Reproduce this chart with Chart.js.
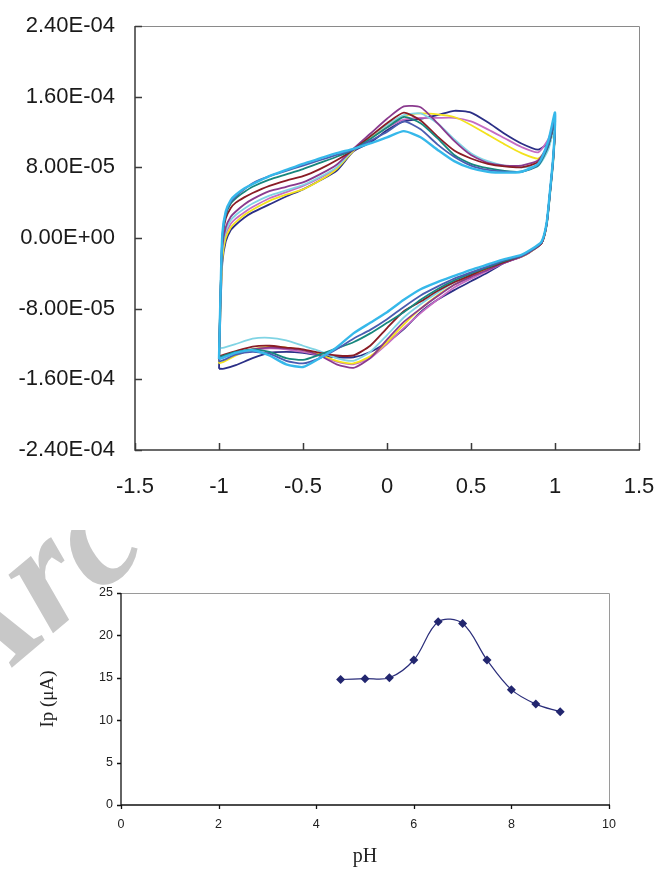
<!DOCTYPE html>
<html>
<head>
<meta charset="utf-8">
<script src="https://cdn.jsdelivr.net/npm/chart.js@4.4.1/dist/chart.umd.min.js"></script>
<style>
  html, body { margin: 0; padding: 0; background: #fff; }
  body { width: 656px; height: 869px; position: relative; overflow: hidden; }
  .wm {
    position: absolute; left: -125px; top: 592px;
    font: italic bold 160px "Liberation Serif", serif;
    color: #c8c8c8; white-space: nowrap;
    transform: rotate(-40deg); transform-origin: left top;
  }
  #cvBox { position: absolute; left: 0; top: 0; width: 656px; height: 530px; background: #fff; }
  #phBox { position: absolute; left: 0; top: 540px; width: 656px; height: 329px; }
</style>
</head>
<body>
<div class="wm">Arc</div>
<div id="cvBox"><canvas id="cv" width="656" height="530"></canvas></div>
<div id="phBox"><canvas id="ph" width="656" height="329"></canvas></div>
<script>
// cyclic voltammograms: potential (V) sweep -1 -> 1 -> -1, current (A)
const potential = [
  -1.00, -0.99, -0.98, -0.96, -0.93, -0.90, -0.85, -0.80, -0.70, -0.60, -0.50, -0.40, -0.30, -0.20,
  -0.10, 0.00, 0.10, 0.20, 0.30, 0.40, 0.50, 0.60, 0.70, 0.80, 0.90, 0.96, 1.00,
  0.99, 0.97, 0.95, 0.92, 0.85, 0.80, 0.70, 0.60, 0.50, 0.40, 0.30, 0.20, 0.10, 0.00,
  -0.10, -0.20, -0.30, -0.40, -0.50, -0.60, -0.70, -0.80, -0.90, -0.97, -1.00
];

const curNavy = [
  -14.8e-5, -7.5e-5, -2.8e-5, -0.4e-5, 0.9e-5, 1.5e-5, 2.3e-5, 2.9e-5, 3.8e-5, 4.7e-5, 5.5e-5, 6.5e-5, 7.6e-5, 9.8e-5,
  10.8e-5, 12.2e-5, 13.2e-5, 13.5e-5, 13.9e-5, 14.4e-5, 14.2e-5, 13.1e-5, 11.8e-5, 10.7e-5, 10.0e-5, 10.8e-5, 12.8e-5,
  9.2e-5, 5.2e-5, 1.6e-5, -0.6e-5, -1.6e-5, -2.1e-5, -2.8e-5, -3.9e-5, -4.9e-5, -5.9e-5, -7.0e-5, -8.4e-5, -10.3e-5, -11.8e-5,
  -12.9e-5, -13.5e-5, -13.5e-5, -13.3e-5, -13.0e-5, -12.9e-5, -13.0e-5, -13.6e-5, -14.4e-5, -14.8e-5, -14.8e-5
];
const curPink = [
  -13.7e-5, -6.5e-5, -1.8e-5, 0.4e-5, 1.6e-5, 2.2e-5, 2.9e-5, 3.5e-5, 4.5e-5, 5.2e-5, 5.9e-5, 6.8e-5, 7.9e-5, 9.9e-5,
  11.3e-5, 12.5e-5, 13.4e-5, 13.6e-5, 13.6e-5, 13.6e-5, 13.2e-5, 12.3e-5, 11.3e-5, 10.3e-5, 9.7e-5, 11.2e-5, 13.2e-5,
  9.0e-5, 5.0e-5, 1.5e-5, -0.6e-5, -1.6e-5, -2.1e-5, -2.8e-5, -3.7e-5, -4.6e-5, -5.6e-5, -7.0e-5, -8.5e-5, -10.2e-5, -12.0e-5,
  -13.6e-5, -14.3e-5, -14.0e-5, -13.3e-5, -12.9e-5, -12.6e-5, -12.5e-5, -12.7e-5, -13.1e-5, -13.5e-5, -13.7e-5
];
const curYellow = [
  -14.2e-5, -7.0e-5, -2.4e-5, 0.0e-5, 1.2e-5, 1.8e-5, 2.6e-5, 3.2e-5, 4.2e-5, 4.9e-5, 5.5e-5, 6.5e-5, 7.8e-5, 9.9e-5,
  11.4e-5, 12.8e-5, 13.8e-5, 14.1e-5, 14.0e-5, 13.7e-5, 12.8e-5, 11.7e-5, 10.6e-5, 9.6e-5, 9.0e-5, 10.3e-5, 12.6e-5,
  8.8e-5, 4.9e-5, 1.4e-5, -0.6e-5, -1.6e-5, -2.1e-5, -2.7e-5, -3.5e-5, -4.3e-5, -5.3e-5, -6.5e-5, -8.0e-5, -9.8e-5, -11.8e-5,
  -13.4e-5, -14.2e-5, -13.9e-5, -13.2e-5, -12.7e-5, -12.4e-5, -12.3e-5, -12.6e-5, -13.3e-5, -14.0e-5, -14.2e-5
];
const curCyan = [
  -12.5e-5, -5.5e-5, -1.4e-5, 0.8e-5, 2.0e-5, 2.6e-5, 3.3e-5, 3.9e-5, 4.8e-5, 5.4e-5, 6.0e-5, 6.9e-5, 8.0e-5, 10.0e-5,
  11.5e-5, 12.8e-5, 13.9e-5, 14.1e-5, 13.0e-5, 11.2e-5, 9.6e-5, 8.7e-5, 8.2e-5, 8.0e-5, 8.2e-5, 10.0e-5, 12.8e-5,
  8.6e-5, 4.8e-5, 1.3e-5, -0.5e-5, -1.5e-5, -2.0e-5, -2.6e-5, -3.3e-5, -4.1e-5, -5.0e-5, -6.2e-5, -7.5e-5, -9.0e-5, -11.0e-5,
  -12.9e-5, -13.9e-5, -13.6e-5, -12.8e-5, -12.2e-5, -11.6e-5, -11.3e-5, -11.4e-5, -12.0e-5, -12.4e-5, -12.5e-5
];
const curPurple = [
  -13.6e-5, -6.0e-5, -1.0e-5, 1.2e-5, 2.4e-5, 3.0e-5, 3.8e-5, 4.4e-5, 5.3e-5, 5.8e-5, 6.3e-5, 7.2e-5, 8.3e-5, 10.1e-5,
  11.8e-5, 13.5e-5, 14.9e-5, 14.8e-5, 13.0e-5, 11.0e-5, 9.4e-5, 8.5e-5, 8.2e-5, 8.2e-5, 8.8e-5, 10.6e-5, 13.0e-5,
  9.0e-5, 5.0e-5, 1.5e-5, -0.6e-5, -1.6e-5, -2.1e-5, -2.8e-5, -3.6e-5, -4.4e-5, -5.3e-5, -6.6e-5, -8.0e-5, -9.5e-5, -11.5e-5,
  -13.6e-5, -14.7e-5, -14.3e-5, -13.3e-5, -12.7e-5, -12.5e-5, -12.4e-5, -12.6e-5, -13.0e-5, -13.4e-5, -13.6e-5
];
const curMaroon = [
  -13.4e-5, -5.5e-5, -0.3e-5, 2.2e-5, 3.4e-5, 4.0e-5, 4.6e-5, 5.1e-5, 5.9e-5, 6.5e-5, 7.0e-5, 7.8e-5, 8.8e-5, 10.0e-5,
  11.5e-5, 13.0e-5, 14.2e-5, 13.3e-5, 11.5e-5, 9.9e-5, 9.0e-5, 8.4e-5, 8.1e-5, 8.0e-5, 8.6e-5, 10.5e-5, 13.2e-5,
  9.1e-5, 5.1e-5, 1.5e-5, -0.6e-5, -1.5e-5, -2.0e-5, -2.7e-5, -3.4e-5, -4.2e-5, -5.0e-5, -6.0e-5, -7.2e-5, -8.3e-5, -10.2e-5,
  -12.2e-5, -13.3e-5, -13.3e-5, -13.0e-5, -12.6e-5, -12.4e-5, -12.2e-5, -12.3e-5, -12.8e-5, -13.2e-5, -13.4e-5
];
const curTeal = [
  -13.5e-5, -5.5e-5, 0.0e-5, 2.6e-5, 3.9e-5, 4.5e-5, 5.2e-5, 5.8e-5, 6.6e-5, 7.2e-5, 7.8e-5, 8.5e-5, 9.2e-5, 10.0e-5,
  11.2e-5, 12.5e-5, 13.7e-5, 13.0e-5, 11.3e-5, 9.4e-5, 8.4e-5, 7.9e-5, 7.6e-5, 7.5e-5, 8.2e-5, 10.4e-5, 13.4e-5,
  9.2e-5, 5.1e-5, 1.6e-5, -0.5e-5, -1.5e-5, -2.0e-5, -2.6e-5, -3.3e-5, -4.0e-5, -4.8e-5, -5.8e-5, -7.0e-5, -8.4e-5, -9.6e-5,
  -10.8e-5, -11.8e-5, -12.5e-5, -13.2e-5, -13.8e-5, -13.6e-5, -12.9e-5, -12.6e-5, -12.9e-5, -13.3e-5, -13.5e-5
];
const curBlue = [
  -14.0e-5, -5.8e-5, 0.2e-5, 2.8e-5, 4.1e-5, 4.7e-5, 5.5e-5, 6.2e-5, 7.0e-5, 7.6e-5, 8.2e-5, 8.8e-5, 9.4e-5, 10.0e-5,
  11.0e-5, 12.0e-5, 13.2e-5, 12.3e-5, 10.6e-5, 9.2e-5, 8.2e-5, 7.7e-5, 7.5e-5, 7.5e-5, 8.3e-5, 10.6e-5, 13.6e-5,
  9.3e-5, 5.2e-5, 1.6e-5, -0.5e-5, -1.5e-5, -2.0e-5, -2.5e-5, -3.2e-5, -3.9e-5, -4.6e-5, -5.5e-5, -6.5e-5, -7.8e-5, -9.2e-5,
  -10.4e-5, -11.4e-5, -12.6e-5, -13.6e-5, -14.2e-5, -13.9e-5, -13.1e-5, -12.9e-5, -13.2e-5, -13.8e-5, -14.0e-5
];
const curSky = [
  -13.7e-5, -5.5e-5, 0.5e-5, 3.0e-5, 4.3e-5, 4.9e-5, 5.6e-5, 6.1e-5, 7.0e-5, 7.7e-5, 8.4e-5, 9.0e-5, 9.6e-5, 10.1e-5,
  10.7e-5, 11.4e-5, 12.1e-5, 11.4e-5, 10.0e-5, 8.7e-5, 7.9e-5, 7.5e-5, 7.4e-5, 7.5e-5, 8.4e-5, 11.0e-5, 14.2e-5,
  9.4e-5, 5.3e-5, 1.7e-5, -0.4e-5, -1.4e-5, -1.9e-5, -2.4e-5, -3.0e-5, -3.6e-5, -4.3e-5, -5.0e-5, -5.8e-5, -7.0e-5, -8.4e-5,
  -9.6e-5, -10.8e-5, -12.4e-5, -13.6e-5, -14.6e-5, -14.3e-5, -13.3e-5, -12.7e-5, -13.0e-5, -13.5e-5, -13.7e-5
];

const cvCurrents = [curNavy, curPink, curYellow, curCyan, curPurple, curMaroon, curTeal, curBlue, curSky];
const cvColors = ['#2b2f86', '#c56cc3', '#f3e21c', '#80d4e4', '#8a3a8e', '#8a1c25', '#16877d', '#4a5cb1', '#36b8ea'];

const cvTicksX = [-1.5, -1, -0.5, 0, 0.5, 1, 1.5];
const cvTicksY = [-2.4e-4, -1.6e-4, -8e-5, 0, 8e-5, 1.6e-4, 2.4e-4];

// peak current vs pH
const pH = [4.5, 5, 5.5, 6, 6.5, 7, 7.5, 8, 8.5, 9];
const ipMicroA = [14.8, 14.9, 15.0, 17.1, 21.6, 21.4, 17.1, 13.6, 11.9, 11.0];
const phTicksX = [0, 2, 4, 6, 8, 10];
const phTicksY = [0, 5, 10, 15, 20, 25];

// Excel style exponent: 1.60E-04
function sci(v) {
  const [m, e] = v.toExponential(2).split('e');
  return m + 'E' + (e[0] === '-' ? '-' : '+') + String(Math.abs(+e)).padStart(2, '0');
}

// plot frame: dark left/bottom axes, grey top/right edges, tick marks (inward when len > 0)
const axisFrame = {
  id: 'axisFrame',
  afterDatasetsDraw(chart, args, o) {
    const { ctx, chartArea: a, scales: { x, y } } = chart;
    ctx.save();
    ctx.lineWidth = 1;
    ctx.strokeStyle = o.edge;
    ctx.beginPath();
    ctx.moveTo(a.left, Math.round(a.top) + 0.5);
    ctx.lineTo(Math.round(a.right) + 0.5, Math.round(a.top) + 0.5);
    ctx.lineTo(Math.round(a.right) + 0.5, a.bottom);
    ctx.stroke();

    ctx.strokeStyle = o.axis;
    ctx.lineWidth = o.axisWidth;
    ctx.beginPath();
    ctx.moveTo(a.left, a.top);
    ctx.lineTo(a.left, a.bottom);
    ctx.lineTo(a.right + 1, a.bottom);
    y.ticks.forEach(t => {
      const py = Math.round(y.getPixelForValue(t.value)) + 0.5;
      ctx.moveTo(a.left, py);
      ctx.lineTo(a.left + o.tickLen, py);
    });
    x.ticks.forEach(t => {
      const px = Math.round(x.getPixelForValue(t.value)) + 0.5;
      ctx.moveTo(px, a.bottom);
      ctx.lineTo(px, a.bottom - o.tickLen);
    });
    ctx.stroke();
    ctx.restore();
  }
};

const sans = 'Liberation Sans, Arial, sans-serif';
const serif = 'Liberation Serif, Times New Roman, serif';

// keep the plot box fixed: no extra room for overhanging end labels
function fixX(h) {
  return s => { s.height = h; s.paddingLeft = 0; s.paddingRight = 0; };
}
function fixY(w) {
  return s => { s.width = w; s.paddingTop = 0; s.paddingBottom = 0; };
}

new Chart(document.getElementById('cv'), {
  type: 'scatter',
  data: {
    datasets: cvCurrents.map((cur, i) => ({
      data: potential.map((e, k) => ({ x: e, y: cur[k] })),
      showLine: true,
      borderColor: cvColors[i],
      borderWidth: i === cvCurrents.length - 1 ? 2.4 : 1.8,
      pointRadius: 0,
      tension: 0.2,
      order: cvCurrents.length - i
    }))
  },
  options: {
    responsive: false,
    animation: false,
    layout: { padding: { top: 26, right: 17, left: 0, bottom: 0 } },
    plugins: {
      legend: { display: false },
      tooltip: { enabled: false },
      axisFrame: { edge: '#8a8a8a', axis: '#3a3a3a', axisWidth: 1.5, tickLen: 7 }
    },
    scales: {
      x: {
        type: 'linear', min: -1.5, max: 1.5,
        afterBuildTicks: s => { s.ticks = cvTicksX.map(v => ({ value: v })); },
        afterFit: fixX(80),
        grid: { display: false, drawTicks: false },
        border: { display: false },
        ticks: { padding: 24, color: '#1a1a1a', font: { family: sans, size: 22 }, callback: v => String(v) }
      },
      y: {
        min: -2.4e-4, max: 2.4e-4,
        afterBuildTicks: s => { s.ticks = cvTicksY.map(v => ({ value: v })); },
        afterFit: fixY(135),
        grid: { display: false, drawTicks: false },
        border: { display: false },
        ticks: { padding: 20, color: '#1a1a1a', font: { family: sans, size: 22 }, callback: v => sci(v) }
      }
    }
  },
  plugins: [axisFrame]
});

new Chart(document.getElementById('ph'), {
  type: 'scatter',
  data: {
    datasets: [{
      data: pH.map((p, i) => ({ x: p, y: ipMicroA[i] })),
      showLine: true,
      borderColor: '#2a2d7a',
      borderWidth: 1.2,
      backgroundColor: '#22266f',
      pointStyle: 'rectRot',
      pointRadius: 4.5,
      pointBorderWidth: 0,
      tension: 0.35
    }]
  },
  options: {
    responsive: false,
    animation: false,
    layout: { padding: { top: 53, right: 47, left: 30, bottom: 0 } },
    plugins: {
      legend: { display: false },
      tooltip: { enabled: false },
      axisFrame: { edge: '#9a9a9a', axis: '#111', axisWidth: 1.3, tickLen: -4 }
    },
    scales: {
      x: {
        type: 'linear', min: 0, max: 10,
        afterBuildTicks: s => { s.ticks = phTicksX.map(v => ({ value: v })); },
        afterFit: fixX(64),
        grid: { display: false, drawTicks: false },
        border: { display: false },
        ticks: { padding: 12, color: '#222', font: { family: sans, size: 12.5 } },
        title: { display: true, text: 'pH', color: '#222', font: { family: serif, size: 20 }, padding: { top: 0, bottom: 0 } }
      },
      y: {
        min: 0, max: 25,
        afterBuildTicks: s => { s.ticks = phTicksY.map(v => ({ value: v })); },
        afterFit: fixY(91),
        grid: { display: false, drawTicks: false },
        border: { display: false },
        ticks: { padding: 8, color: '#222', font: { family: sans, size: 12.5 } },
        title: { display: true, text: 'Ip (μA)', color: '#222', font: { family: serif, size: 19 }, padding: { top: 7, bottom: 0 } }
      }
    }
  },
  plugins: [axisFrame]
});
</script>
</body>
</html>
